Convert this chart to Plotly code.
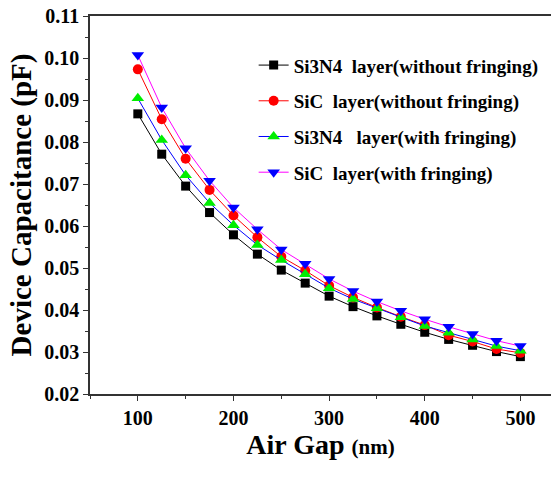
import plotly.graph_objects as go

air_gap = [100, 125, 150, 175, 200, 225, 250, 275, 300, 325, 350, 375, 400, 425, 450, 475, 500]

si3n4_without = [0.0867, 0.0771, 0.0695, 0.0632, 0.0579, 0.0533, 0.0495, 0.0464, 0.0433,
                 0.0408, 0.0386, 0.0366, 0.0347, 0.0330, 0.0316, 0.0301, 0.0289]
sic_without = [0.0973, 0.0854, 0.0760, 0.0686, 0.0625, 0.0573, 0.0527, 0.0494, 0.0458,
               0.0430, 0.0406, 0.0384, 0.0364, 0.0340, 0.0325, 0.0307, 0.0298]
si3n4_with = [0.0904, 0.0805, 0.0721, 0.0655, 0.0602, 0.0555, 0.0519, 0.0485, 0.0452,
              0.0426, 0.0404, 0.0383, 0.0362, 0.0346, 0.0330, 0.0314, 0.0303]
sic_with = [0.1007, 0.0882, 0.0785, 0.0708, 0.0644, 0.0592, 0.0544, 0.0510, 0.0474,
            0.0445, 0.0420, 0.0398, 0.0378, 0.0360, 0.0343, 0.0327, 0.0314]

series_names = ["Si3N4  layer(without fringing)", "SiC  layer(without fringing)",
                "Si3N4   layer(with fringing)", "SiC  layer(with fringing)"]

FONT = "Liberation Serif"

styles = [
    dict(line="#000000", marker="#000000", symbol="square", size=9),
    dict(line="#ff0000", marker="#ff0000", symbol="circle", size=10),
    dict(line="#0000ff", marker="#00ee00", symbol="triangle-up", size=11),
    dict(line="#ff00ff", marker="#0000ff", symbol="triangle-down", size=11),
]

fig = go.Figure()
for i, (name, ys, st) in enumerate(zip(series_names,
                                       [si3n4_without, sic_without, si3n4_with, sic_with],
                                       styles)):
    fig.add_trace(go.Scatter(
        x=air_gap, y=ys, name=name, mode="lines+markers",
        legendgroup=f"g{i}",
        line=dict(color=st["line"], width=1),
        marker=dict(color=st["marker"], symbol=st["symbol"], size=st["size"],
                    line=dict(width=0)),
    ))

fig.update_layout(
    width=557, height=478,
    margin=dict(l=90, r=6, t=16, b=84),
    paper_bgcolor="white", plot_bgcolor="white",
    font=dict(family=FONT, color="black"),
    legend=dict(
        x=0.355, y=0.92, xanchor="left", yanchor="top",
        bgcolor="rgba(0,0,0,0)",
        font=dict(family=FONT, size=19, color="black", weight="bold"),
        tracegroupgap=8, itemwidth=30,
    ),
    xaxis=dict(
        range=[50, 532], tickvals=[100, 200, 300, 400, 500],
        showgrid=False, zeroline=False,
        showline=True, linecolor="#333333", linewidth=1.5, mirror=True,
        ticks="outside", ticklen=5, tickwidth=1, tickcolor="#333333",
        minor=dict(tickvals=[50, 150, 250, 350, 450], ticks="outside", ticklen=3,
                   tickcolor="#333333"),
        tickfont=dict(family=FONT, size=20, color="black", weight="bold"),
        title=dict(text="<b>Air Gap <span style='font-size:21px'>(nm)</span></b>",
                   font=dict(family=FONT, size=28, color="black"), standoff=0),
    ),
    yaxis=dict(
        range=[0.02, 0.11], tickvals=[0.02, 0.03, 0.04, 0.05, 0.06, 0.07, 0.08, 0.09, 0.10, 0.11],
        tickformat=".2f",
        showgrid=False, zeroline=False,
        showline=True, linecolor="#333333", linewidth=1.5,
        ticks="outside", ticklen=5, tickwidth=1, tickcolor="#333333",
        minor=dict(dtick=0.005, tick0=0.02, ticks="outside", ticklen=3, tickcolor="#333333"),
        tickfont=dict(family=FONT, size=20, color="black", weight="bold"),
        title=dict(text="<b>Device Capacitance (pF)</b>",
                   font=dict(family=FONT, size=29, color="black"), standoff=4),
    ),
)

fig.write_html("out.html")
